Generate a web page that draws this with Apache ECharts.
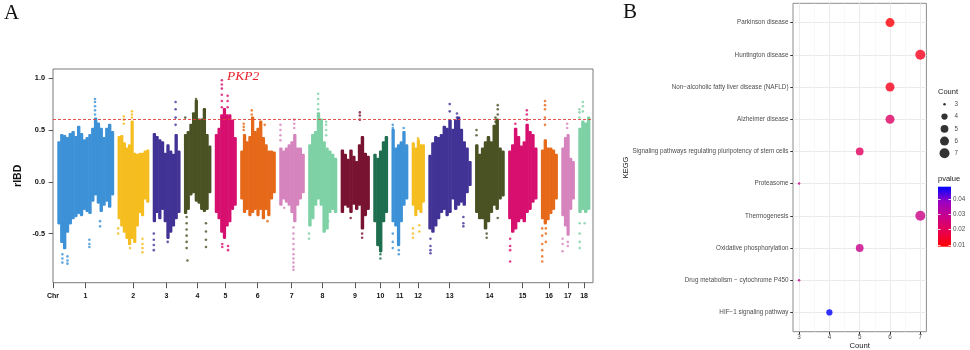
<!DOCTYPE html>
<html>
<head>
<meta charset="utf-8">
<script src="https://cdn.jsdelivr.net/npm/echarts@6/dist/echarts.min.js"></script>
<style>html,body{margin:0;padding:0;background:#fff}#chart{width:970px;height:350px}</style>
</head>
<body>
<div id="chart"></div>
<script>
// ---------- panel A: rIBD along the 18 chromosomes ----------
var chrNames = ['1','2','3','4','5','6','7','8','9','10','11','12','13','14','15','16','17','18'];
var chrLengths = [274.3,151.9,132.8,130.9,104.5,170.8,121.8,138.9,139.5,69.4,79.2,61.6,208.3,141.8,140.4,79.9,63.5,56.0]; // Mb
var chrColors = ['#3c91d7','#f5bd1e','#413296','#4a5224','#d70f6e','#e66919','#d684bd','#7dd1a5','#781432','#1e6e50',
                 '#3c91d7','#f5bd1e','#413296','#4a5224','#d70f6e','#e66919','#d684bd','#7dd1a5'];
var chrGap = 19.4;
var xMin = -21, xMax = 2611;

// dense part of the cloud, read bin by bin (upper / lower edge)
var upper = [
  [0.38,0.45,0.44,0.42,0.46,0.48,0.43,0.53,0.46,0.40,0.42,0.45,0.51,0.61,0.56,0.51,0.42,0.51,0.55,0.48],
  [0.43,0.44,0.37,0.32,0.35,0.58,0.27,0.26,0.27,0.27,0.29,0.30],
  [0.46,0.43,0.40,0.38,0.27,0.35,0.29,0.26,0.45,0.29],
  [0.45,0.48,0.55,0.66,0.78,0.60,0.60,0.70,0.45,0.34],
  [0.45,0.51,0.64,0.70,0.64,0.64,0.59,0.42],
  [0.29,0.45,0.38,0.43,0.62,0.48,0.51,0.58,0.42,0.35,0.29,0.29,0.28],
  [0.32,0.29,0.32,0.35,0.38,0.45,0.32,0.32,0.26],
  [0.35,0.45,0.48,0.66,0.60,0.38,0.32,0.29,0.26,0.22],
  [0.30,0.26,0.21,0.30,0.24,0.19,0.35,0.43,0.27,0.24],
  [0.26,0.22,0.29,0.38,0.43],
  [0.50,0.32,0.35,0.38,0.48,0.35],
  [0.37,0.32,0.40,0.35,0.35],
  [0.25,0.37,0.43,0.42,0.45,0.53,0.51,0.59,0.50,0.59,0.62,0.50,0.38,0.32,0.19],
  [0.35,0.26,0.32,0.38,0.43,0.38,0.54,0.60,0.32,0.29],
  [0.29,0.35,0.51,0.43,0.34,0.38,0.55,0.48,0.45,0.32],
  [0.30,0.40,0.32,0.32,0.30,0.26],
  [0.32,0.42,0.45,0.22,0.19],
  [0.51,0.58,0.56,0.62]
];
var lower = [
  [-0.40,-0.58,-0.64,-0.48,-0.40,-0.35,-0.33,-0.30,-0.32,-0.26,-0.28,-0.30,-0.18,-0.12,-0.20,-0.28,-0.22,-0.18,-0.24,-0.12],
  [-0.35,-0.42,-0.48,-0.54,-0.60,-0.54,-0.58,-0.42,-0.29,-0.32,-0.16,-0.19],
  [-0.38,-0.29,-0.35,-0.26,-0.38,-0.54,-0.48,-0.42,-0.35,-0.29],
  [-0.30,-0.26,-0.12,-0.10,-0.18,-0.20,-0.26,-0.28,-0.26,-0.10],
  [-0.29,-0.35,-0.48,-0.54,-0.42,-0.38,-0.26,-0.22],
  [-0.16,-0.29,-0.26,-0.32,-0.29,-0.26,-0.32,-0.26,-0.35,-0.26,-0.32,-0.16,-0.10],
  [-0.22,-0.16,-0.19,-0.22,-0.29,-0.38,-0.22,-0.16,-0.10],
  [-0.42,-0.35,-0.22,-0.16,-0.22,-0.48,-0.45,-0.29,-0.26,-0.29],
  [-0.29,-0.22,-0.24,-0.29,-0.21,-0.26,-0.22,-0.45,-0.32,-0.26],
  [-0.38,-0.61,-0.67,-0.38,-0.29],
  [-0.38,-0.42,-0.61,-0.38,-0.22,-0.16],
  [-0.22,-0.32,-0.26,-0.29,-0.19],
  [-0.45,-0.48,-0.42,-0.35,-0.29,-0.26,-0.32,-0.29,-0.16,-0.26,-0.22,-0.19,-0.22,-0.10,-0.03],
  [-0.29,-0.35,-0.35,-0.45,-0.38,-0.29,-0.22,-0.26,-0.16,-0.13],
  [-0.35,-0.48,-0.45,-0.38,-0.35,-0.38,-0.29,-0.26,-0.19,-0.16],
  [-0.35,-0.40,-0.36,-0.30,-0.26,-0.16],
  [-0.32,-0.42,-0.51,-0.26,-0.16],
  [-0.29,-0.26,-0.29,-0.26]
];
// sparse points outside the dense part: [chromosome, relative position, rIBD]
var outliers = [
  [1,0.09,-0.70],[1,0.09,-0.74],[1,0.09,-0.78],[1,0.18,-0.72],[1,0.18,-0.76],[1,0.18,-0.79],[1,0.57,-0.56],[1,0.57,-0.60],[1,0.57,-0.63],
  [1,0.67,0.65],[1,0.67,0.69],[1,0.67,0.73],[1,0.67,0.77],[1,0.67,0.80],[1,0.76,-0.38],[1,0.76,-0.43],
  [2,0.02,-0.45],[2,0.02,-0.50],[2,0.20,0.56],[2,0.20,0.60],[2,0.20,0.63],[2,0.46,0.62],[2,0.46,0.65],[2,0.46,0.68],
  [2,0.80,-0.55],[2,0.80,-0.60],[2,0.80,-0.64],[2,0.80,-0.68],[2,0.40,-0.64],
  [3,0.04,-0.50],[3,0.04,-0.56],[3,0.04,-0.61],[3,0.04,-0.66],[3,0.84,0.55],[3,0.84,0.62],[3,0.84,0.70],[3,0.84,0.77],[3,0.55,-0.58],
  [4,0.10,-0.34],[4,0.10,-0.40],[4,0.10,-0.46],[4,0.10,-0.52],[4,0.10,-0.58],[4,0.10,-0.64],[4,0.13,-0.76],[4,0.05,0.62],
  [4,0.82,-0.40],[4,0.82,-0.48],[4,0.82,-0.56],[4,0.82,-0.63],[4,0.45,0.80],
  [5,0.33,0.72],[5,0.33,0.78],[5,0.33,0.84],[5,0.33,0.90],[5,0.33,0.94],[5,0.33,0.98],[5,0.60,0.72],[5,0.60,0.78],[5,0.60,0.83],
  [5,0.35,-0.60],[5,0.35,-0.63],[5,0.62,-0.62],[5,0.62,-0.66],
  [6,0.10,0.50],[6,0.10,0.53],[6,0.10,0.56],[6,0.33,0.65],[6,0.33,0.69],[6,0.70,0.55],[6,0.78,-0.38],
  [7,0.05,0.40],[7,0.05,0.45],[7,0.05,0.50],[7,0.05,0.55],[7,0.57,-0.44],[7,0.57,-0.50],[7,0.57,-0.55],[7,0.57,-0.60],[7,0.57,-0.65],
  [7,0.57,-0.70],[7,0.57,-0.74],[7,0.57,-0.78],[7,0.57,-0.82],[7,0.57,-0.85],[7,0.60,0.52],[7,0.60,0.56],[7,0.60,0.60],[7,0.20,-0.25],
  [8,0.03,-0.50],[8,0.03,-0.55],[8,0.35,0.70],[8,0.35,0.75],[8,0.35,0.80],[8,0.35,0.85],[8,0.63,0.45],[8,0.63,0.50],[8,0.63,0.55],
  [8,0.63,0.58],[8,0.70,-0.38],
  [9,0.67,0.60],[9,0.67,0.64],[9,0.67,0.67],[9,0.75,-0.50],[9,0.75,-0.54],[9,0.35,-0.35],
  [10,0.50,-0.70],[10,0.50,-0.74],
  [11,0.08,-0.50],[11,0.08,-0.58],[11,0.08,-0.64],[11,0.08,0.52],[11,0.08,0.55],[11,0.45,-0.66],[11,0.45,-0.70],[11,0.75,0.52],
  [12,0.10,-0.45],[12,0.10,-0.50],[12,0.10,-0.54],[12,0.60,-0.42],[12,0.60,-0.48],[12,0.50,0.42],
  [13,0.05,-0.55],[13,0.05,-0.62],[13,0.05,-0.66],[13,0.05,-0.69],[13,0.50,0.68],[13,0.50,0.75],[13,0.67,0.62],[13,0.67,0.66],
  [13,0.82,-0.34],[13,0.82,-0.40],[13,0.82,-0.43],
  [14,0.05,0.45],[14,0.05,0.50],[14,0.40,-0.50],[14,0.40,-0.54],[14,0.78,0.65],[14,0.78,0.70],[14,0.78,0.74],[14,0.70,0.58],
  [14,0.70,0.62],[14,0.78,-0.35],
  [15,0.07,-0.55],[15,0.07,-0.62],[15,0.07,-0.66],[15,0.07,-0.77],[15,0.65,0.60],[15,0.65,0.65],[15,0.65,0.69],[15,0.25,0.56],
  [16,0.08,-0.45],[16,0.08,-0.52],[16,0.08,-0.60],[16,0.08,-0.66],[16,0.08,-0.72],[16,0.08,-0.77],[16,0.25,0.55],[16,0.25,0.62],
  [16,0.25,0.70],[16,0.25,0.74],[16,0.25,0.78],[16,0.30,-0.45],[16,0.30,-0.50],[16,0.30,-0.58],
  [17,0.10,-0.55],[17,0.10,-0.60],[17,0.10,-0.67],[17,0.45,0.52],[17,0.45,0.56],[17,0.50,-0.58],[17,0.50,-0.62],
  [18,0.10,0.62],[18,0.10,0.67],[18,0.10,0.70],[18,0.12,-0.40],[18,0.12,-0.50],[18,0.12,-0.58],[18,0.12,-0.64],
  [18,0.40,0.68],[18,0.40,0.73],[18,0.40,0.77],[18,0.55,-0.40]
];
var rIBDTicks = [-0.5, 0, 0.5, 1.0];
var threshold = 0.6;

// ---------- panel B: KEGG enrichment ----------
var keggTerms = ['HIF\u22121 signaling pathway', 'Drug metabolism \u2212 cytochrome P450', 'Oxidative phosphorylation',
  'Thermogenesis', 'Proteasome', 'Signaling pathways regulating pluripotency of stem cells', 'Alzheimer disease',
  'Non\u2212alcoholic fatty liver disease (NAFLD)', 'Huntington disease', 'Parkinson disease'];
var keggCount = [4, 3, 5, 7, 3, 5, 6, 6, 7, 6];
var keggP = [0.048, 0.030, 0.029, 0.028, 0.030, 0.021, 0.022, 0.012, 0.0125, 0.0095];
var countTicks = [3, 4, 5, 6, 7];
var countMinor = [3.5, 4.5, 5.5, 6.5];
var countLevels = [3, 4, 5, 6, 7];
var pTicks = [0.01, 0.02, 0.03, 0.04];
var pMin = 0.0089, pMax = 0.048;
var pColors = ['#ff0000', '#e8004f', '#ca0089', '#9a00c3', '#0000ff'];

// ---------- layout helpers ----------
var chrStart = [], acc = 0;
chrLengths.forEach(function (len) { chrStart.push(acc); acc += len + chrGap; });
var chrCenter = chrStart.map(function (s, i) { return s + chrLengths[i] / 2; });
var xTicks = [xMin].concat(chrCenter);

var binData = [];
upper.forEach(function (hi, c) {
  var w = chrLengths[c] / hi.length;
  hi.forEach(function (h, i) { binData.push([chrStart[c] + (i + 0.5) * w, lower[c][i], h, w, c]); });
});
var dotData = outliers.map(function (o) {
  var c = o[0] - 1;
  return { value: [chrStart[c] + o[1] * chrLengths[c], o[2]], itemStyle: { color: chrColors[c] } };
});
function dotSize(n) { return 1.5 * (1 + 5 * Math.sqrt((n - 3) / 4)) + 1; }
var keggData = keggTerms.map(function (t, i) { return [keggCount[i], i, keggP[i]]; });
var keggIdx = keggTerms.map(function (t, i) { return i; });

var sans = 'Liberation Sans';
var serif = 'Liberation Serif';
var grey30 = '#4d4d4d';
var noLine = { show: false, onZero: false };

var chart = echarts.init(document.getElementById('chart'));
chart.setOption({
  animation: false,
  backgroundColor: '#fff',
  grid: [
    { left: 53, top: 69, width: 540, height: 213.7, show: true, borderColor: '#7a7a7a', borderWidth: 1, outerBoundsMode: 'none' },
    { left: 793, top: 3.3, width: 133.4, height: 328.4, show: true, borderColor: '#8c8c8c', borderWidth: 1, outerBoundsMode: 'none' },
    { left: 937, top: 98.2, width: 15, height: 61.25, outerBoundsMode: 'none' },
    { left: 938, top: 186.7, width: 13, height: 60, outerBoundsMode: 'none' }
  ],
  xAxis: [
    { gridIndex: 0, type: 'value', min: xMin, max: xMax, axisLine: noLine, splitLine: { show: false },
      axisTick: { customValues: xTicks, length: 5.5, lineStyle: { color: '#555' } },
      axisLabel: { customValues: xTicks, margin: 10, fontSize: 7, fontWeight: 'bold', color: '#111', fontFamily: sans,
        formatter: function (v) {
          if (v <= xMin + 1) return 'Chr';
          for (var k = 0; k < chrCenter.length; k++) if (Math.abs(chrCenter[k] - v) < 1) return chrNames[k];
          return '';
        } } },
    { gridIndex: 1, type: 'value', min: 2.8, max: 7.2, axisLine: noLine,
      axisTick: { customValues: countTicks, length: 2.75, lineStyle: { color: '#333' } },
      axisLabel: { customValues: countTicks, margin: 3, fontSize: 6.3, color: grey30, fontFamily: sans },
      splitLine: { show: true, lineStyle: { color: '#ebebeb', width: 1 } },
      name: 'Count', nameLocation: 'middle', nameGap: 10, nameMoveOverlap: false,
      nameTextStyle: { fontSize: 7.7, color: '#1a1a1a', fontFamily: sans } },
    { gridIndex: 1, type: 'value', min: 2.8, max: 7.2, position: 'bottom', axisLine: noLine,
      axisTick: { show: false, customValues: countMinor }, axisLabel: { show: false, customValues: countMinor },
      splitLine: { show: true, lineStyle: { color: '#f3f3f3', width: 0.6 } } },
    { gridIndex: 2, type: 'value', min: 0, max: 1, show: false, axisLine: noLine },
    { gridIndex: 3, type: 'value', min: 0, max: 1, show: false, axisLine: noLine }
  ],
  yAxis: [
    { gridIndex: 0, type: 'value', min: -0.974, max: 1.089, axisLine: noLine, splitLine: { show: false },
      axisTick: { customValues: rIBDTicks, length: 4.3, lineStyle: { color: '#555' } },
      axisLabel: { customValues: rIBDTicks, margin: 8, fontSize: 7.3, fontWeight: 'bold', color: '#111', fontFamily: sans,
        formatter: function (v) { return v.toFixed(1); } },
      name: 'rIBD', nameLocation: 'middle', nameGap: 29, nameRotate: 90, nameMoveOverlap: false,
      nameTextStyle: { fontSize: 10.5, fontWeight: 'bold', color: '#111', fontFamily: sans } },
    { gridIndex: 1, type: 'value', min: -0.6, max: 9.6, axisLine: noLine,
      axisTick: { customValues: keggIdx, length: 2.75, lineStyle: { color: '#333' } },
      axisLabel: { customValues: keggIdx, margin: 4.5, fontSize: 6.3, color: grey30, fontFamily: sans,
        formatter: function (v) { return keggTerms[Math.round(v)]; } },
      splitLine: { show: true, lineStyle: { color: '#ebebeb', width: 1 } },
      name: 'KEGG', nameLocation: 'middle', nameGap: 163, nameRotate: 90, nameMoveOverlap: false,
      nameTextStyle: { fontSize: 7.5, color: '#1a1a1a', fontFamily: sans } },
    { gridIndex: 2, type: 'category', data: countLevels.map(String), inverse: true, position: 'right',
      axisLine: noLine, axisTick: { show: false },
      axisLabel: { margin: 2.5, fontSize: 6.3, color: grey30, fontFamily: sans } },
    { gridIndex: 3, type: 'value', min: pMin, max: pMax, position: 'right', axisLine: noLine, splitLine: { show: false },
      axisTick: { customValues: pTicks, inside: true, length: 2.6, lineStyle: { color: '#fff', width: 0.8 } },
      axisLabel: { customValues: pTicks, margin: 2, fontSize: 6.3, color: grey30, fontFamily: sans,
        formatter: function (v) { return v.toFixed(2); } } },
    { gridIndex: 3, type: 'value', min: pMin, max: pMax, position: 'left', axisLine: noLine, splitLine: { show: false },
      axisTick: { customValues: pTicks, inside: true, length: 2.6, lineStyle: { color: '#fff', width: 0.8 } },
      axisLabel: { show: false, customValues: pTicks } }
  ],
  visualMap: [{ show: false, type: 'continuous', min: pMin, max: pMax, dimension: 2, seriesIndex: 2,
    inRange: { color: pColors } }],
  series: [
    { type: 'custom', xAxisIndex: 0, yAxisIndex: 0, data: binData, encode: { x: 0, y: [1, 2] },
      renderItem: function (params, api) {
        var x = api.value(0), w = api.value(3);
        var p1 = api.coord([x - w / 2, api.value(2)]);
        var p2 = api.coord([x + w / 2, api.value(1)]);
        return { type: 'rect', shape: { x: p1[0], y: p1[1] - 1.2, width: p2[0] - p1[0] + 0.6, height: p2[1] - p1[1] + 2.4, r: 1.1 },
          style: { fill: chrColors[api.value(4)] } };
      } },
    { type: 'scatter', xAxisIndex: 0, yAxisIndex: 0, data: dotData, symbolSize: 2.6, z: 3,
      markLine: { silent: true, symbol: 'none', label: { show: false }, z: 5,
        lineStyle: { color: '#e0403c', type: [3, 2], width: 0.9 }, data: [{ yAxis: threshold }] } },
    { type: 'scatter', xAxisIndex: 1, yAxisIndex: 1, data: keggData, z: 4,
      symbolSize: function (d) { return dotSize(d[0]); } },
    { type: 'scatter', xAxisIndex: 3, yAxisIndex: 2, data: countLevels.map(function (n, i) { return [0.5, i, n]; }),
      symbolSize: function (d) { return dotSize(d[2]); }, itemStyle: { color: '#000' } },
    { type: 'custom', xAxisIndex: 4, yAxisIndex: 3, z: -1, data: [[0, pMin, pMax]], encode: { x: 0, y: [1, 2] },
      renderItem: function (params, api) {
        var a = api.coord([0, api.value(2)]), b = api.coord([1, api.value(1)]);
        var stops = pColors.map(function (c, i) { return { offset: i / (pColors.length - 1), color: c }; });
        return { type: 'rect', shape: { x: a[0], y: a[1], width: b[0] - a[0], height: b[1] - a[1] },
          style: { fill: new echarts.graphic.LinearGradient(0, 1, 0, 0, stops) } };
      } }
  ],
  graphic: [
    { type: 'text', x: 4, y: 13.5, style: { text: 'A', fontSize: 21, fontFamily: serif, fill: '#111', verticalAlign: 'middle' } },
    { type: 'text', x: 623, y: 12.5, style: { text: 'B', fontSize: 21, fontFamily: serif, fill: '#111', verticalAlign: 'middle' } },
    { type: 'text', x: 227, y: 76.3, style: { text: 'PKP2', fontSize: 13.5, fontStyle: 'italic', fontFamily: serif, fill: '#e8202a', verticalAlign: 'middle' } },
    { type: 'text', x: 938, y: 91.7, style: { text: 'Count', fontSize: 7.5, fontFamily: sans, fill: '#1a1a1a', verticalAlign: 'middle' } },
    { type: 'text', x: 938, y: 179.3, style: { text: 'pvalue', fontSize: 7.5, fontFamily: sans, fill: '#1a1a1a', verticalAlign: 'middle' } }
  ]
});
</script>
</body>
</html>
